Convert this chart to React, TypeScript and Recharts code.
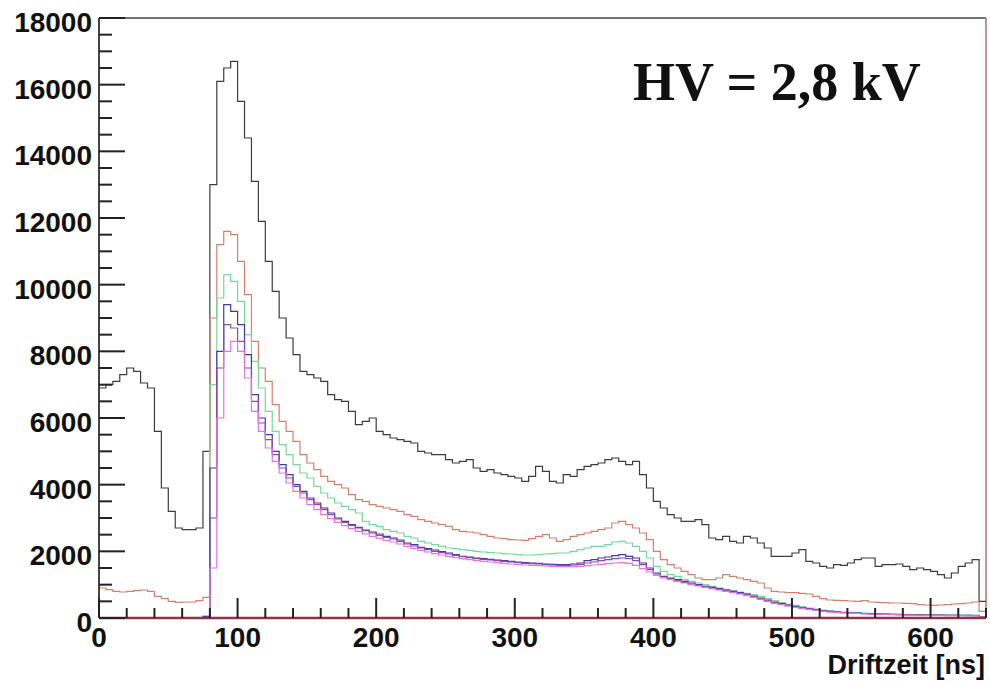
import { LineChart, Line, XAxis, YAxis, ReferenceLine } from "recharts";

// Driftzeit-Histogramme, Bins zu 5 ns (Startwert des Bins)
const BIN_NS = 5;

const black = [
  6900, 7000, 7100, 7300, 7500, 7400, 7050, 6900, 5600, 3900, 3200, 2700, 2650, 2650, 2700, 5000,
  13000, 16100, 16500, 16700, 15500, 14400, 13100, 11900, 10700, 9800, 9000, 8400, 7900, 7400, 7300, 7200,
  7100, 6700, 6550, 6500, 6200, 5800, 5900, 6000, 5600, 5500, 5400, 5350, 5300, 5250, 5000, 4950,
  4900, 4900, 4750, 4650, 4700, 4750, 4500, 4400, 4450, 4350, 4300, 4250, 4200, 4100, 4250, 4550,
  4400, 4100, 4050, 4300, 4250, 4450, 4550, 4600, 4650, 4750, 4800, 4700, 4600, 4700, 4300, 3900,
  3500, 3300, 3100, 3000, 2900, 2900, 2950, 2800, 2400, 2350, 2450, 2300, 2250, 2450, 2400, 2250,
  2100, 1850, 1850, 1850, 1950, 2050, 1700, 1650, 1550, 1500, 1600, 1580, 1650, 1750, 1800, 1800,
  1550, 1600, 1600, 1620, 1550, 1450, 1500, 1450, 1400, 1300, 1200, 1350, 1550, 1650, 1750, 500,
];

const red = [
  900, 850, 800, 780, 800, 820, 840, 800, 650, 580, 500, 470, 480, 480, 520, 620,
  9000, 11200, 11600, 11500, 10700, 9700, 8300, 7500, 7100, 6400, 5900, 5600, 5300, 4900, 4650, 4450,
  4250, 4100, 4000, 3900, 3700, 3550, 3500, 3400, 3350, 3300, 3250, 3200, 3100, 3050, 2950, 2900,
  2850, 2800, 2750, 2650, 2600, 2580, 2550, 2500, 2450, 2400, 2380, 2350, 2340, 2330, 2380, 2450,
  2500, 2400, 2300, 2350, 2450, 2500, 2550, 2600, 2650, 2700, 2850, 2900, 2800, 2700, 2550, 2350,
  2000, 1750, 1600, 1500, 1400, 1300, 1200, 1150, 1150, 1200, 1300, 1250, 1200, 1150, 1100, 1050,
  900, 800, 780, 760, 760, 740, 720, 650, 580, 540, 530, 520, 510, 500, 520, 480,
  470, 460, 450, 450, 440, 430, 400, 390, 380, 390, 400, 420, 430, 450, 480, 200,
];

const green = [
  0, 0, 0, 0, 0, 0, 0, 0, 0, 0, 0, 0, 0, 0, 0, 50,
  7000, 9600, 10300, 10100, 9500, 8500, 7700, 6900, 6200, 5600, 5200, 4900, 4600, 4350, 4200, 3950,
  3750, 3600, 3450, 3350, 3250, 3150, 2900, 2800, 2750, 2650, 2600, 2550, 2450, 2400, 2300, 2250,
  2200, 2150, 2100, 2080, 2050, 2030, 2000, 1980, 1960, 1950, 1930, 1920, 1900, 1890, 1890, 1900,
  1920, 1930, 1950, 1950, 2000, 2050, 2100, 2150, 2150, 2200, 2280, 2300, 2250, 2150, 2000, 1800,
  1550, 1400, 1300, 1250, 1150, 1100, 1050, 1000, 950, 900, 860, 820, 780, 740, 700, 650,
  580, 520, 460, 420, 380, 340, 300, 270, 240, 220, 200, 180, 170, 160, 150, 140,
  130, 125, 120, 115, 110, 105, 100, 100, 95, 95, 90, 90, 90, 85, 85, 40,
];

const blue = [
  0, 0, 0, 0, 0, 0, 0, 0, 0, 0, 0, 0, 0, 0, 0, 50,
  4500, 8000, 9400, 9200, 8800, 7900, 6700, 6000, 5500, 5000, 4600, 4300, 4000, 3800, 3600, 3450,
  3300, 3150, 3000, 2900, 2800, 2720, 2640, 2580, 2520, 2450, 2400, 2340, 2250, 2200, 2120, 2080,
  2040, 1990, 1950, 1900, 1850, 1830, 1800, 1780, 1760, 1740, 1720, 1700, 1680, 1660, 1650, 1640,
  1620, 1610, 1600, 1600, 1620, 1650, 1720, 1750, 1800, 1830, 1870, 1900, 1850, 1800, 1650, 1500,
  1350, 1250, 1200, 1150, 1100, 1050, 1000, 950, 920, 880, 840, 800, 760, 720, 660, 600,
  540, 480, 430, 390, 350, 310, 280, 250, 220, 200, 180, 165, 155, 145, 135, 125,
  120, 115, 110, 105, 100, 95, 92, 90, 88, 85, 83, 80, 80, 78, 75, 30,
];

const purple = [
  0, 0, 0, 0, 0, 0, 0, 0, 0, 0, 0, 0, 0, 0, 0, 0,
  3000, 7500, 8800, 8700, 8300, 7500, 6500, 5850, 5350, 4900, 4500, 4200, 3950, 3750, 3550, 3400,
  3250, 3100, 2970, 2870, 2780, 2700, 2620, 2550, 2480, 2420, 2370, 2300, 2220, 2160, 2100, 2050,
  2000, 1960, 1920, 1880, 1840, 1810, 1780, 1760, 1740, 1720, 1700, 1680, 1660, 1640, 1630, 1620,
  1600, 1590, 1580, 1580, 1590, 1610, 1650, 1680, 1720, 1750, 1780, 1800, 1780, 1720, 1600, 1450,
  1320, 1230, 1180, 1120, 1070, 1020, 980, 930, 900, 860, 820, 780, 740, 700, 640, 580,
  520, 460, 410, 370, 330, 300, 270, 240, 210, 190, 170, 160, 150, 140, 130, 120,
  115, 110, 105, 100, 95, 90, 88, 85, 83, 80, 78, 76, 75, 73, 70, 30,
];

const magenta = [
  0, 0, 0, 0, 0, 0, 0, 0, 0, 0, 0, 0, 0, 0, 0, 0,
  1500, 6000, 8000, 8300, 8000, 7200, 6200, 5600, 5100, 4700, 4350, 4050, 3800, 3600, 3400, 3250,
  3100, 2980, 2870, 2770, 2680, 2600, 2520, 2450, 2390, 2330, 2280, 2220, 2150, 2090, 2030, 1980,
  1930, 1890, 1850, 1810, 1780, 1750, 1720, 1700, 1680, 1660, 1640, 1620, 1600, 1590, 1580, 1570,
  1560, 1550, 1540, 1540, 1540, 1550, 1570, 1590, 1610, 1630, 1650, 1660, 1640, 1580, 1480, 1380,
  1280, 1200, 1150, 1100, 1050, 1000, 960, 920, 880, 840, 800, 760, 720, 680, 620, 560,
  500, 440, 400, 360, 320, 290, 260, 230, 200, 180, 165, 155, 145, 135, 125, 118,
  112, 106, 100, 95, 90, 86, 83, 80, 78, 76, 74, 72, 70, 68, 66, 30,
];

const X_MAX = 640;
const Y_MAX = 18000;
const xTicks = Array.from({ length: 33 }, (_, i) => i * 20);
const yTicks = Array.from({ length: 37 }, (_, i) => i * 500);

const series = [
  { key: "black", values: black, color: "#3c3c3c" },
  { key: "red", values: red, color: "#d4806c" },
  { key: "green", values: green, color: "#78d89a" },
  { key: "blue", values: blue, color: "#3c3ca8" },
  { key: "purple", values: purple, color: "#8c4c9c" },
  { key: "magenta", values: magenta, color: "#e474e4" },
];

// Tabelle für Recharts; letzter Punkt bei 640 schließt den letzten Bin ab
const rows: any[] = [];
for (let i = 0; i <= black.length; i++) {
  const j = Math.min(i, black.length - 1);
  const row: any = { x: i * BIN_NS };
  series.forEach((s) => (row[s.key] = s.values[j]));
  rows.push(row);
}

const PLOT_LEFT = 99;
const PLOT_BOTTOM = 618;
const TICK_COLOR = "#222";
const FONT = "'Liberation Sans', Arial, Helvetica, sans-serif";

const YTick = (props: any) => {
  const { y, payload } = props;
  const v = payload.value;
  const major = v % 2000 === 0;
  return (
    <g>
      <line x1={PLOT_LEFT} x2={PLOT_LEFT + (major ? 26 : 13)} y1={y} y2={y} stroke={TICK_COLOR} strokeWidth={2} />
      {major ? (
        <text x={92} y={y + 14} textAnchor="end" fontFamily={FONT} fontWeight="bold" fontSize={28} fill="#111">
          {v}
        </text>
      ) : null}
    </g>
  );
};

const XTick = (props: any) => {
  const { x, payload } = props;
  const v = payload.value;
  const major = v % 100 === 0;
  return (
    <g>
      <line x1={x} x2={x} y1={PLOT_BOTTOM} y2={PLOT_BOTTOM - (major ? 20 : 10)} stroke={TICK_COLOR} strokeWidth={2} />
      {major ? (
        <text x={x} y={647} textAnchor="middle" fontFamily={FONT} fontWeight="bold" fontSize={28} fill="#111">
          {v}
        </text>
      ) : null}
    </g>
  );
};

// Achsentitel und HV-Beschriftung
const ChartTexts = () => (
  <g>
    <text x={985} y={674} textAnchor="end" fontFamily={FONT} fontWeight="bold" fontSize={27} fill="#111">
      Driftzeit [ns]
    </text>
    <text x={633} y={100} fontFamily="'Liberation Serif', 'Times New Roman', serif" fontWeight="bold" fontSize={54} fill="#111">
      HV = 2,8 kV
    </text>
  </g>
);

export default function App() {
  return (
    <div style={{ width: 990, height: 683, background: "#fff" }}>
      <style>{"body{margin:0}"}</style>
      <LineChart width={990} height={683} data={rows} margin={{ top: 18, right: 4, bottom: 0, left: 0 }}>
        <ReferenceLine y={Y_MAX} stroke="#444" strokeWidth={1.5} />
        <ReferenceLine x={X_MAX} stroke="#b07070" strokeWidth={1.5} />
        {series.map((s) => (
          <Line
            key={s.key}
            type="stepAfter"
            dataKey={s.key}
            stroke={s.color}
            strokeWidth={1.2}
            dot={false}
            activeDot={false}
            isAnimationActive={false}
          />
        ))}
        <XAxis
          dataKey="x"
          type="number"
          domain={[0, X_MAX]}
          ticks={xTicks}
          interval={0}
          height={65}
          tick={<XTick />}
          tickLine={false}
          axisLine={{ stroke: "#8a3448", strokeWidth: 2.5 }}
          label={<ChartTexts />}
          allowDataOverflow
        />
        <YAxis
          type="number"
          domain={[0, Y_MAX]}
          ticks={yTicks}
          interval={0}
          width={99}
          tick={<YTick />}
          tickLine={false}
          axisLine={{ stroke: "#444", strokeWidth: 2 }}
          allowDataOverflow
        />
      </LineChart>
    </div>
  );
}
